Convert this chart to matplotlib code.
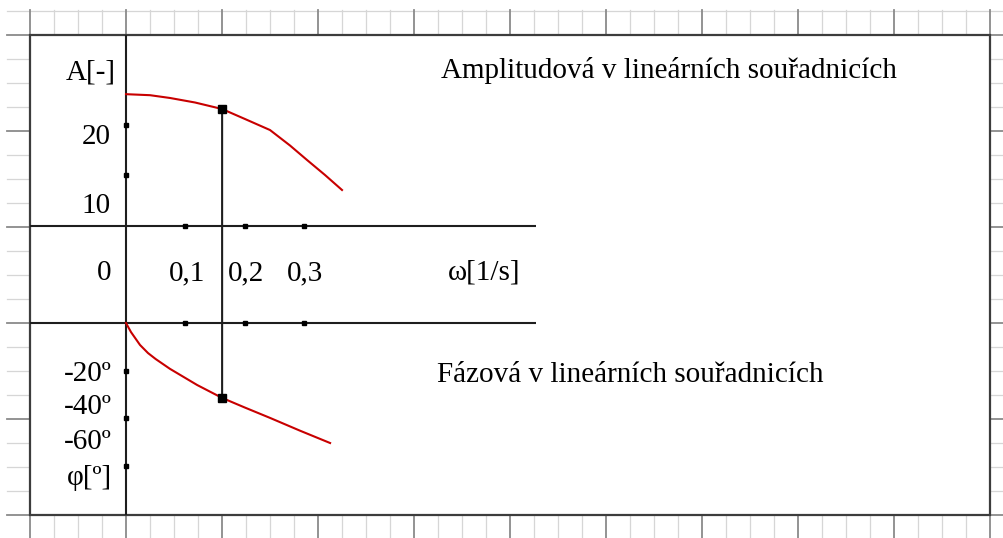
import matplotlib.pyplot as plt
import numpy as np
from matplotlib.patches import Rectangle, ConnectionPatch

plt.rcParams['font.family'] = ['Liberation Serif', 'DejaVu Serif']

# amplituda A(w) a faze phi(w)
w_amp = [0, 0.0405, 0.0742, 0.1163, 0.1618, 0.2006, 0.2427, 0.2764, 0.3051, 0.3354, 0.3641]
amp = [26.0, 25.8, 25.25, 24.36, 23.08, 21.1, 18.93, 15.88, 13.02, 10.06, 7.1]
w_phi = [0, 0.0084, 0.0236, 0.0371, 0.050, 0.074, 0.120, 0.162, 0.200, 0.243, 0.293, 0.344]
phi = [0, -3.8, -9.2, -12.6, -15.1, -19.2, -26.0, -31.4, -35.4, -39.8, -45.1, -50.3]

# vyznaceny bod
w_mark = 0.162
amp_mark = 23.08
phi_mark = -31.4

w_ticks = [0.1, 0.2, 0.3]
w_labels = ['0,1', '0,2', '0,3']
amp_ticks = [10, 20]
phi_ticks = [-20, -40, -60]

W, H = 1004, 538
fig = plt.figure(figsize=(W / 100, H / 100), dpi=100)

# ctvereckovany papir
paper = fig.add_axes([0, 0, 1, 1])
paper.set_xlim(0, W)
paper.set_ylim(H, 0)
paper.axis('off')
for x in range(30 - 24, W + 1, 24):
    major = (x - 30) % 96 == 0
    if x >= 7:
        paper.plot([x, x], [10, H], color='#8a8a8a' if major else '#d6d6d6',
                   lw=1.3 if major else 0.9, zorder=1 if major else 0)
for y in range(11, H + 1, 24):
    major = (y - 35) % 96 == 0
    paper.plot([7, W], [y, y], color='#8a8a8a' if major else '#d6d6d6',
               lw=1.3 if major else 0.9, zorder=1 if major else 0)
paper.add_patch(Rectangle((30, 35), 960, 480, facecolor='white',
                          edgecolor='#3c3c3c', lw=1.6, zorder=2))

# prevod pixelu papiru na souradnice grafu
x0, ya0, yp0 = 126, 226, 323
sx, sa, sp = 593.3, 5.07, 2.386
rect = [30 / W, (H - 515) / H, 960 / W, 480 / H]
wlim = ((30 - x0) / sx, (990 - x0) / sx)

ax_a = fig.add_axes(rect, zorder=3)
ax_a.set_xlim(*wlim)
ax_a.set_ylim((ya0 - 515) / sa, (ya0 - 35) / sa)
ax_a.patch.set_alpha(0)
ax_a.axis('off')

ax_p = fig.add_axes(rect, zorder=4)
ax_p.set_xlim(*wlim)
ax_p.set_ylim((yp0 - 515) / sp, (yp0 - 35) / sp)
ax_p.patch.set_alpha(0)
ax_p.axis('off')

axis_c = '#1e1e1e'
w_end = (536 - x0) / sx
ax_a.axvline(0, color=axis_c, lw=1.5)
ax_a.hlines(0, wlim[0], w_end, color=axis_c, lw=1.5)
ax_p.hlines(0, wlim[0], w_end, color=axis_c, lw=1.5)

ax_a.plot(w_amp, amp, color='#c80000', lw=1.5, solid_joinstyle='round')
ax_p.plot(w_phi, phi, color='#c80000', lw=1.5, solid_joinstyle='round')

# znacky na osach
ax_a.plot(w_ticks, [0] * len(w_ticks), 's', color='black', ms=3.5)
ax_p.plot(w_ticks, [0] * len(w_ticks), 's', color='black', ms=3.5)
ax_a.plot([0] * len(amp_ticks), amp_ticks, 's', color='black', ms=3.5)
ax_p.plot([0] * len(phi_ticks), phi_ticks, 's', color='black', ms=3.5)

ax_a.plot([w_mark], [amp_mark], 's', color='black', ms=5.5, zorder=5)
ax_p.plot([w_mark], [phi_mark], 's', color='black', ms=5.5, zorder=5)
fig.add_artist(ConnectionPatch((w_mark, amp_mark), (w_mark, phi_mark),
                               coordsA=ax_a.transData, coordsB=ax_p.transData,
                               color=axis_c, lw=1.5))

fs = 21
paper.text(116, 72, 'A[-]', ha='right', va='center', fontsize=fs, zorder=5)
paper.text(111, 137, '20', ha='right', va='center', fontsize=fs, zorder=5)
paper.text(111, 206, '10', ha='right', va='center', fontsize=fs, zorder=5)
paper.text(111, 273, '0', ha='right', va='center', fontsize=fs, zorder=5)
for lx, lab in zip([187.5, 246.5, 305], w_labels):
    paper.text(lx, 273, lab, ha='center', va='center', fontsize=fs, zorder=5)
paper.text(448, 273, 'ω[1/s]', ha='left', va='center', fontsize=fs, zorder=5)
paper.text(441, 71, 'Amplitudová v lineárních souřadnicích', ha='left',
           va='center', fontsize=fs, zorder=5)
paper.text(437, 375, 'Fázová v lineárních souřadnicích', ha='left',
           va='center', fontsize=fs, zorder=5)
for ly, lab in zip([374, 407, 442], ['-20º', '-40º', '-60º']):
    paper.text(112, ly, lab, ha='right', va='center', fontsize=fs, zorder=5)
paper.text(112, 478, 'φ[º]', ha='right', va='center', fontsize=fs, zorder=5)

fig.savefig('out.png', dpi=100)
